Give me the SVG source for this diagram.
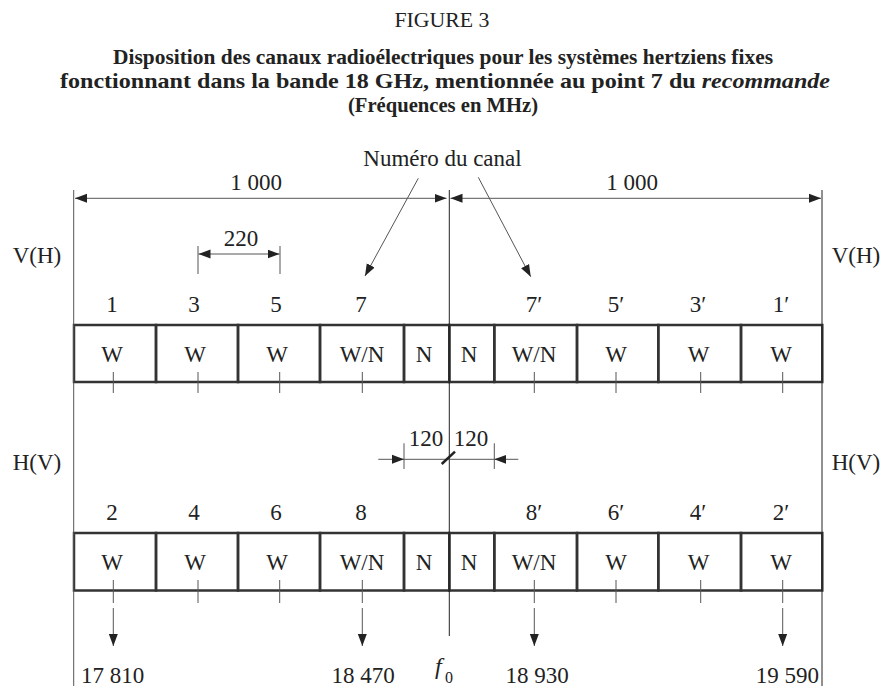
<svg xmlns="http://www.w3.org/2000/svg" width="885" height="688" viewBox="0 0 885 688">
<style>
  text { font-family: "Liberation Serif", "Times New Roman", serif; fill: #222; }
  .t { font-size: 23px; text-anchor: middle; }
  .title { font-size: 22px; font-weight: bold; text-anchor: middle; }
  .box { fill: none; stroke: #333; stroke-width: 2.5; }
  .thin { fill: none; stroke: #555; stroke-width: 1; }
  .axis { fill: none; stroke: #222; stroke-width: 1; }
</style>
<defs>
  <marker id="arr" markerUnits="userSpaceOnUse" markerWidth="13" markerHeight="10" refX="12" refY="5" orient="auto-start-reverse">
    <path d="M0,0.5 L12,5 L0,9.5 z" fill="#222"/>
  </marker>
</defs>
<rect width="885" height="688" fill="#fff"/>

<g id="title">
  <text x="442" y="27" style="font-size:20px;text-anchor:middle" textLength="95" lengthAdjust="spacingAndGlyphs">FIGURE 3</text>
  <text class="title" x="443" y="64" textLength="660" lengthAdjust="spacingAndGlyphs">Disposition des canaux radioélectriques pour les systèmes hertziens fixes</text>
  <text class="title" x="445" y="88" textLength="770" lengthAdjust="spacingAndGlyphs">fonctionnant dans la bande 18 GHz, mentionnée au point 7 du <tspan font-style="italic">recommande</tspan></text>
  <text class="title" x="443" y="112" style="font-size:21px" textLength="190" lengthAdjust="spacingAndGlyphs">(Fréquences en MHz)</text>
</g>

<g id="labels">
  <text class="t" x="442.5" y="166">Numéro du canal</text>
  <text class="t" x="256" y="190">1 000</text>
  <text class="t" x="632" y="190">1 000</text>
  <text class="t" x="241" y="246">220</text>
  <text class="t" x="37" y="263">V(H)</text>
  <text class="t" x="856" y="263">V(H)</text>
  <text class="t" x="37" y="470">H(V)</text>
  <text class="t" x="856" y="470">H(V)</text>
  <text class="t" x="426" y="446">120</text>
  <text class="t" x="471" y="446">120</text>
  <text x="81" y="683" style="font-size:23px">17 810</text>
  <text class="t" x="363" y="683">18 470</text>
  <text class="t" x="537" y="683">18 930</text>
  <text x="819" y="683" style="font-size:23px;text-anchor:end">19 590</text>
  <text x="435" y="674" style="font-size:24px;font-style:italic">f</text>
  <text x="445" y="683" style="font-size:16px">0</text>
</g>

<g id="channel-numbers">
  <text class="t" x="112" y="312">1</text>
  <text class="t" x="194" y="312">3</text>
  <text class="t" x="276" y="312">5</text>
  <text class="t" x="361" y="312">7</text>
  <text class="t" x="534" y="312">7′</text>
  <text class="t" x="616" y="312">5′</text>
  <text class="t" x="698" y="312">3′</text>
  <text class="t" x="781" y="312">1′</text>
  <text class="t" x="112" y="520">2</text>
  <text class="t" x="194" y="520">4</text>
  <text class="t" x="276" y="520">6</text>
  <text class="t" x="361" y="520">8</text>
  <text class="t" x="534" y="520">8′</text>
  <text class="t" x="616" y="520">6′</text>
  <text class="t" x="698" y="520">4′</text>
  <text class="t" x="781" y="520">2′</text>
</g>

<g id="row-top">
  <g id="top-1"><rect class="box" x="74" y="325" width="82" height="57"/><text class="t" x="112" y="361.5">W</text></g>
  <g id="top-3"><rect class="box" x="156" y="325" width="82" height="57"/><text class="t" x="195" y="361.5">W</text></g>
  <g id="top-5"><rect class="box" x="238" y="325" width="82" height="57"/><text class="t" x="277" y="361.5">W</text></g>
  <g id="top-7"><rect class="box" x="320" y="325" width="84" height="57"/><text class="t" x="362" y="361.5">W/N</text></g>
  <g id="top-nl"><rect class="box" x="404" y="325" width="45.3" height="57"/><text class="t" x="424" y="361.5">N</text></g>
  <g id="top-nr"><rect class="box" x="449.3" y="325" width="45" height="57"/><text class="t" x="469" y="361.5">N</text></g>
  <g id="top-7p"><rect class="box" x="494.3" y="325" width="82.7" height="57"/><text class="t" x="534" y="361.5">W/N</text></g>
  <g id="top-5p"><rect class="box" x="577" y="325" width="81.3" height="57"/><text class="t" x="616" y="361.5">W</text></g>
  <g id="top-3p"><rect class="box" x="658.3" y="325" width="82.7" height="57"/><text class="t" x="698.5" y="361.5">W</text></g>
  <g id="top-1p"><rect class="box" x="741" y="325" width="81.3" height="57"/><text class="t" x="781" y="361.5">W</text></g>
</g>

<g id="row-bottom">
  <g id="bot-2"><rect class="box" x="74" y="533" width="82" height="57.5"/><text class="t" x="112" y="570">W</text></g>
  <g id="bot-4"><rect class="box" x="156" y="533" width="82" height="57.5"/><text class="t" x="195" y="570">W</text></g>
  <g id="bot-6"><rect class="box" x="238" y="533" width="82" height="57.5"/><text class="t" x="277" y="570">W</text></g>
  <g id="bot-8"><rect class="box" x="320" y="533" width="84" height="57.5"/><text class="t" x="362" y="570">W/N</text></g>
  <g id="bot-nl"><rect class="box" x="404" y="533" width="45.3" height="57.5"/><text class="t" x="424" y="570">N</text></g>
  <g id="bot-nr"><rect class="box" x="449.3" y="533" width="45" height="57.5"/><text class="t" x="469" y="570">N</text></g>
  <g id="bot-8p"><rect class="box" x="494.3" y="533" width="82.7" height="57.5"/><text class="t" x="534" y="570">W/N</text></g>
  <g id="bot-6p"><rect class="box" x="577" y="533" width="81.3" height="57.5"/><text class="t" x="616" y="570">W</text></g>
  <g id="bot-4p"><rect class="box" x="658.3" y="533" width="82.7" height="57.5"/><text class="t" x="698.5" y="570">W</text></g>
  <g id="bot-2p"><rect class="box" x="741" y="533" width="81.3" height="57.5"/><text class="t" x="781" y="570">W</text></g>
</g>

<g id="connectors">
  <path class="thin" d="M73.7,190 V686"/>
  <path class="axis" d="M822,190 V686"/>
  <path class="axis" d="M449.3,190 V636"/>
  <path class="thin" d="M75,198.3 H446.5" marker-start="url(#arr)" marker-end="url(#arr)"/>
  <path class="thin" d="M450.5,198.3 H821" marker-start="url(#arr)" marker-end="url(#arr)"/>
  <path class="thin" d="M198,246 V274 M280,246 V274"/>
  <path class="thin" d="M198.5,254 H279.5" marker-start="url(#arr)" marker-end="url(#arr)"/>
  <path class="thin" d="M418.3,178.3 L365,276" marker-end="url(#arr)"/>
  <path class="thin" d="M478.3,177.3 L530.7,276.7" marker-end="url(#arr)"/>
  <path class="thin" d="M113.3,372 V393 M198,372 V393 M279.7,372 V393 M362.3,372 V393 M534.3,372 V393 M616,372 V393 M700.7,372 V393 M782.7,372 V393"/>
  <path class="thin" d="M113.3,580 V603 M198,580 V603 M279.7,580 V603 M362.3,580 V603 M534.3,580 V603 M616,580 V603 M700.7,580 V603 M782.7,580 V603"/>
  <path class="thin" d="M113.3,608 V646" marker-end="url(#arr)"/>
  <path class="thin" d="M362.3,608 V646" marker-end="url(#arr)"/>
  <path class="thin" d="M534.3,608 V646" marker-end="url(#arr)"/>
  <path class="thin" d="M782.7,608 V646" marker-end="url(#arr)"/>
  <path class="thin" d="M404,443.3 V469 M494.3,443.3 V469"/>
  <path class="thin" d="M404,459.3 H494.3"/>
  <path class="thin" d="M378.3,459.3 H404" marker-end="url(#arr)"/>
  <path class="thin" d="M518.3,459.3 H494.3" marker-end="url(#arr)"/>
  <path d="M441.7,464 L455,451.7" stroke="#222" stroke-width="2.5" fill="none"/>
</g>
</svg>
